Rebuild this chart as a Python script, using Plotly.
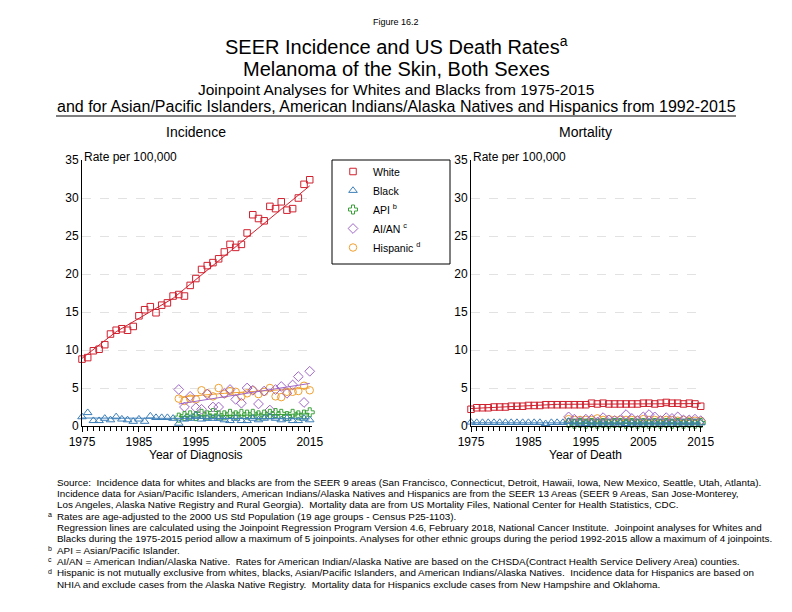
import plotly.graph_objects as go

years = list(range(1975, 2016))
years92 = list(range(1992, 2016))

# Incidence (rate per 100,000)
inc_white = [8.8, 9.0, 9.9, 10.1, 10.7, 12.1, 12.6, 12.8, 12.6, 13.1, 14.5, 15.3, 15.7, 14.9, 15.9, 16.2,
             17.1, 17.3, 17.1, 18.5, 19.4, 20.6, 21.1, 21.5, 22.0, 22.9, 23.9, 23.5, 23.9, 25.4, 27.8,
             27.3, 27.0, 28.9, 28.6, 29.5, 28.4, 28.6, 30.0, 31.8, 32.4]
inc_black = [1.2, 1.75, 0.7, 0.7, 1.0, 0.8, 1.2, 0.9, 0.8, 0.6, 0.9, 0.6, 1.3, 1.1, 1.1, 1.1, 1.0, 0.35,
             0.9, 1.0, 1.4, 0.9, 1.0, 1.0, 1.0, 0.8, 0.7, 1.0, 0.7, 0.7, 1.0, 0.8, 1.0, 1.2, 1.0, 0.8,
             1.0, 0.7, 0.7, 1.0, 0.8]
inc_api = [1.1, 1.3, 1.4, 1.3, 1.6, 1.4, 1.7, 1.4, 1.4, 1.6, 1.4, 1.6, 1.5, 1.6, 1.4, 1.5, 1.6, 1.7,
           1.6, 1.3, 1.6, 1.4, 1.5, 1.8]
inc_aian = [4.8, 2.5, 3.9, 2.4, 2.2, 4.2, 2.5, 2.5, 4.3, 4.8, 3.5, 3.0, 5.0, 4.7, 2.9, 4.6, 2.1, 4.8,
            5.2, 4.3, 5.4, 6.5, 3.1, 7.2]
inc_hisp = [3.6, 3.3, 3.6, 3.5, 4.7, 4.3, 3.9, 5.0, 4.2, 4.6, 4.5, 3.9, 4.3, 4.7, 4.2, 4.5, 5.0, 3.9,
            3.8, 4.5, 4.5, 4.6, 5.3, 4.7]

# Incidence joinpoint fits (year, fitted rate at joinpoints)
inc_white_fit_x = [1975, 1981, 1991, 2015]
inc_white_fit_y = [8.9, 12.4, 16.8, 31.6]
inc_black_fit_x = [1975, 2015]
inc_black_fit_y = [1.05, 0.95]
inc_api_fit_x = [1992, 2015]
inc_api_fit_y = [1.25, 1.6]
inc_aian_fit_x = [1992, 2015]
inc_aian_fit_y = [2.9, 5.6]
inc_hisp_fit_x = [1992, 2000, 2015]
inc_hisp_fit_y = [3.8, 4.3, 5.0]

# Mortality (rate per 100,000)
mor_white = [2.2, 2.4, 2.4, 2.4, 2.5, 2.5, 2.5, 2.6, 2.6, 2.6, 2.7, 2.7, 2.7, 2.8, 2.8, 2.8, 2.8, 2.8,
             2.8, 2.8, 2.8, 3.0, 2.9, 3.0, 2.9, 2.9, 2.9, 2.9, 2.9, 2.9, 3.0, 3.0, 2.9, 3.0, 3.1, 3.0,
             3.0, 2.9, 3.0, 2.9, 2.6]
mor_black = [0.5, 0.45, 0.45, 0.45, 0.45, 0.45, 0.45, 0.45, 0.45, 0.45, 0.45, 0.45, 0.45, 0.3, 0.45,
             0.45, 0.45, 0.6, 0.4, 0.4, 0.3, 0.4, 0.4, 0.4, 0.4, 0.4, 0.4, 0.3, 0.4, 0.4, 0.4, 0.4, 0.4,
             0.4, 0.4, 0.4, 0.4, 0.4, 0.4, 0.4, 0.4]
mor_api = [0.4, 0.3, 0.4, 0.3, 0.4, 0.3, 0.4, 0.3, 0.4, 0.4, 0.3, 0.4, 0.3, 0.4, 0.3, 0.4, 0.3, 0.4,
           0.3, 0.4, 0.3, 0.4, 0.3, 0.4]
mor_aian = [1.2, 0.9, 0.6, 0.9, 0.9, 0.5, 1.1, 0.8, 0.7, 0.8, 1.5, 1.0, 0.7, 1.2, 1.5, 1.2, 0.7, 1.1,
            1.0, 1.2, 0.8, 0.8, 0.9, 0.7]
mor_hisp = [0.9, 0.8, 0.8, 0.8, 0.8, 1.0, 0.8, 0.9, 0.8, 0.8, 0.8, 0.8, 0.8, 0.9, 0.8, 0.8, 0.8, 0.8,
            0.8, 0.7, 0.8, 0.7, 0.7, 0.7]

mor_white_fit_x = [1975, 1990, 2015]
mor_white_fit_y = [2.3, 2.85, 2.95]
mor_black_fit_x = [1975, 2015]
mor_black_fit_y = [0.42, 0.4]
mor_api_fit_x = [1992, 2015]
mor_api_fit_y = [0.35, 0.35]
mor_aian_fit_x = [1992, 2015]
mor_aian_fit_y = [0.9, 0.9]
mor_hisp_fit_x = [1992, 2015]
mor_hisp_fit_y = [0.82, 0.72]

names = ["White", "Black", "API <sup>b</sup>", "AI/AN <sup>c</sup>", "Hispanic <sup>d</sup>"]
colors = ["#d0202e", "#3d7fb8", "#3aa03a", "#a066c8", "#f0a030"]
symbols = ["square-open", "triangle-up-open", "cross-open", "diamond-open", "circle-open"]
sizes = [6.5, 7.5, 7.5, 7.5, 7.5]

inc_series = [(years, inc_white, inc_white_fit_x, inc_white_fit_y),
              (years, inc_black, inc_black_fit_x, inc_black_fit_y),
              (years92, inc_api, inc_api_fit_x, inc_api_fit_y),
              (years92, inc_aian, inc_aian_fit_x, inc_aian_fit_y),
              (years92, inc_hisp, inc_hisp_fit_x, inc_hisp_fit_y)]
mor_series = [(years, mor_white, mor_white_fit_x, mor_white_fit_y),
              (years, mor_black, mor_black_fit_x, mor_black_fit_y),
              (years92, mor_api, mor_api_fit_x, mor_api_fit_y),
              (years92, mor_aian, mor_aian_fit_x, mor_aian_fit_y),
              (years92, mor_hisp, mor_hisp_fit_x, mor_hisp_fit_y)]

fig = go.Figure()
order = [4, 3, 2, 1, 0]
for axn, series, leg in [("", inc_series, True), ("2", mor_series, False)]:
    for i in order:
        x, y, fx, fy = series[i]
        fig.add_trace(go.Scatter(x=fx, y=fy, mode="lines", xaxis="x" + axn, yaxis="y" + axn,
                                 line=dict(color=colors[i], width=1), showlegend=False,
                                 hoverinfo="skip", cliponaxis=False))
        fig.add_trace(go.Scatter(x=x, y=y, mode="markers", name=names[i], xaxis="x" + axn, yaxis="y" + axn,
                                 marker=dict(symbol=symbols[i], size=sizes[i], color=colors[i],
                                             line=dict(width=1, color=colors[i])),
                                 showlegend=leg, legendrank=i + 1, cliponaxis=False))

W, H = 792, 612
def px(x):
    return x / W
def py(y):
    return 1 - y / H

xcommon = dict(range=[1975, 2015.4], tickvals=[1975, 1985, 1995, 2005, 2015], ticks="outside",
               ticklen=5, tickwidth=1, tickcolor="black", showline=True, linecolor="black", linewidth=1,
               showgrid=False, zeroline=False, tickfont=dict(size=12, color="black"), automargin=False,
               minor=dict(dtick=1, tick0=1975, ticks="outside", ticklen=4, tickcolor="black", showgrid=False))
ycommon = dict(range=[0, 35], dtick=5, showline=True, linecolor="black", linewidth=1, ticks="",
               showgrid=True, gridcolor="#e2e2e2", griddash="dash", gridwidth=1, zeroline=False,
               tickfont=dict(size=12, color="black"), automargin=False)

fig.update_layout(
    width=W, height=H, margin=dict(l=0, r=0, t=0, b=0, pad=0, autoexpand=False),
    paper_bgcolor="white", plot_bgcolor="white",
    font=dict(family="Liberation Sans, Arial, sans-serif", color="black"),
    xaxis=dict(domain=[px(82), px(312)], anchor="y", **xcommon),
    yaxis=dict(domain=[py(426), py(160)], anchor="x", **ycommon),
    xaxis2=dict(domain=[px(471), px(703)], anchor="y2", **xcommon),
    yaxis2=dict(domain=[py(426), py(160)], anchor="x2", **ycommon),
    legend=dict(x=px(333), y=py(157), xanchor="left", yanchor="top", borderwidth=0,
                font=dict(size=10.5), itemwidth=30, tracegroupgap=0, bgcolor="rgba(0,0,0,0)",
                traceorder="normal"),
    showlegend=True,
)

ann = []
def text(x, y, s, size, xanchor="center"):
    ann.append(dict(x=px(x), y=py(y), xref="paper", yref="paper", text=s, showarrow=False,
                    xanchor=xanchor, yanchor="middle", font=dict(size=size, color="black")))

text(396, 22, "Figure 16.2", 9)
text(396, 46, "SEER Incidence and US Death Rates<sup>a</sup>", 20)
text(396, 69, "Melanoma of the Skin, Both Sexes", 20)
text(396, 89, "Joinpoint Analyses for Whites and Blacks from 1975-2015", 15.5)
text(396, 106, "and for Asian/Pacific Islanders, American Indians/Alaska Natives and Hispanics from 1992-2015", 16)
text(196, 132, "Incidence", 14)
text(585, 132, "Mortality", 14)
text(82, 157, "Rate per 100,000", 12, "left")
text(471, 157, "Rate per 100,000", 12, "left")
text(196, 455, "Year of Diagnosis", 12)
text(585, 455, "Year of Death", 12)

foot = [
    ("", "Source:  Incidence data for whites and blacks are from the SEER 9 areas (San Francisco, Connecticut, Detroit, Hawaii, Iowa, New Mexico, Seattle, Utah, Atlanta)."),
    ("", "Incidence data for Asian/Pacific Islanders, American Indians/Alaska Natives and Hispanics are from the SEER 13 Areas (SEER 9 Areas, San Jose-Monterey,"),
    ("", "Los Angeles, Alaska Native Registry and Rural Georgia).  Mortality data are from US Mortality Files, National Center for Health Statistics, CDC."),
    ("a", "Rates are age-adjusted to the 2000 US Std Population (19 age groups - Census P25-1103)."),
    ("", "Regression lines are calculated using the Joinpoint Regression Program Version 4.6, February 2018, National Cancer Institute.  Joinpoint analyses for Whites and"),
    ("", "Blacks during the 1975-2015 period allow a maximum of 5 joinpoints. Analyses for other ethnic groups during the period 1992-2015 allow a maximum of 4 joinpoints."),
    ("b", "API = Asian/Pacific Islander."),
    ("c", "AI/AN = American Indian/Alaska Native.  Rates for American Indian/Alaska Native are based on the CHSDA(Contract Health Service Delivery Area) counties."),
    ("d", "Hispanic is not mutually exclusive from whites, blacks, Asian/Pacific Islanders, and American Indians/Alaska Natives.  Incidence data for Hispanics are based on"),
    ("", "NHIA and exclude cases from the Alaska Native Registry.  Mortality data for Hispanics exclude cases from New Hampshire and Oklahoma."),
]
y0 = 482
for k, (letter, line) in enumerate(foot):
    yy = y0 + k * 11.35
    text(55, yy, line.replace("  ", "&nbsp; "), 9.85, "left")
    if letter:
        text(46, yy - 1.5, letter, 7, "left")

fig.update_layout(annotations=ann,
                  shapes=[dict(type="line", xref="paper", yref="paper", x0=px(56), x1=px(736),
                               y0=py(116), y1=py(116), line=dict(color="black", width=1.2)),
                          dict(type="rect", xref="paper", yref="paper", x0=px(332), x1=px(450),
                               y0=py(264), y1=py(160), line=dict(color="black", width=1))])

fig.write_html("out.html", config={"displayModeBar": False},
               post_script="document.body.style.margin='0';document.body.style.padding='0';"
                           "document.body.style.overflow='hidden';"
                           "document.documentElement.style.overflow='hidden';")
